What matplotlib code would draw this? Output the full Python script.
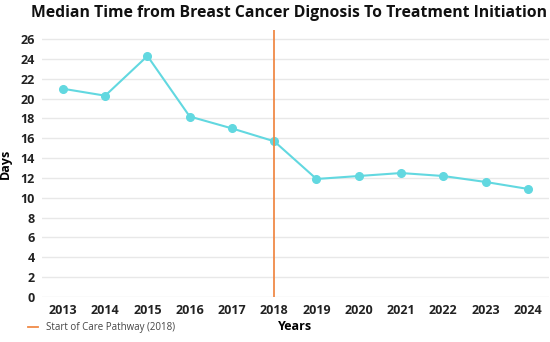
import matplotlib.pyplot as plt
from matplotlib.lines import Line2D

YEARS = ["2013", "2014", "2015", "2016", "2017", "2018",
         "2019", "2020", "2021", "2022", "2023", "2024"]
DAYS = [21.0, 20.3, 24.3, 18.2, 17.0, 15.7, 11.9, 12.2, 12.5, 12.2, 11.6, 10.9]
PATHWAY_YEAR = "2018"
LINE_COLOR = "#62d8e0"
MARK_COLOR = "#f08a48"

plt.rcParams["font.family"] = ["Open Sans", "DejaVu Sans"]

fig = plt.figure(figsize=(5.5, 3.42), dpi=100)
ax = fig.add_axes([0.076, 0.1316, 0.922, 0.78])

x = list(range(len(YEARS)))
ax.plot(x, DAYS, color=LINE_COLOR, linewidth=1.5, marker="o",
        markersize=5.5, zorder=3)
px = YEARS.index(PATHWAY_YEAR)
ax.plot([px, px], [0, 26.9], color=MARK_COLOR, linewidth=1.3, zorder=4)

ax.set_xlim(-0.5, len(YEARS) - 0.5)
ax.set_ylim(0, 26.9)
ax.set_yticks(range(0, 27, 2))
ax.set_xticks(x)
ax.set_xticklabels(YEARS)
for lab in ax.get_xticklabels() + ax.get_yticklabels():
    lab.set_fontweight("bold")
    lab.set_fontsize(9)
    lab.set_color("#222222")
ax.tick_params(length=0, pad=5)
ax.grid(axis="y", color="#e8e8e8", linewidth=1)
ax.set_axisbelow(True)
for s in ax.spines.values():
    s.set_visible(False)

ax.set_xlabel("Years", fontsize=9, fontweight="bold", labelpad=2)
ax.set_ylabel("Days", fontsize=9, fontweight="bold", labelpad=6)
fig.text(0.526, 0.963, "Median Time from Breast Cancer Dignosis To Treatment Initiation",
         ha="center", va="center", fontsize=11.3, fontweight="bold", color="#111111")

handle = Line2D([], [], color=MARK_COLOR, linewidth=1.3)
fig.legend([handle], ["Start of Care Pathway (2018)"], loc="lower left",
           bbox_to_anchor=(0.035, 0.0), frameon=False, fontsize=7,
           handlelength=1.0, handletextpad=0.8, labelcolor="#444444")

fig.savefig("out.png", dpi=100)
